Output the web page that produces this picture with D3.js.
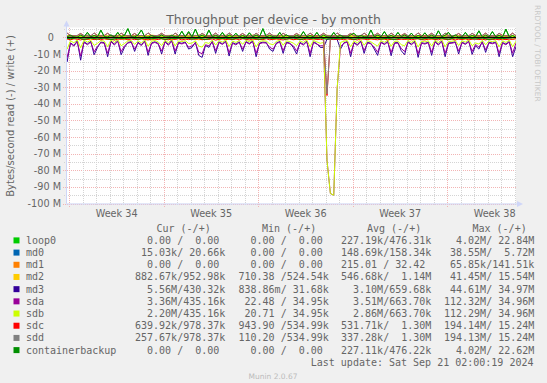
<!DOCTYPE html>
<html>
<head>
<meta charset="utf-8">
<script src="https://cdn.jsdelivr.net/npm/d3@7"></script>
<style>
  body { margin: 0; background: #f0f0f0; }
  svg { display: block; }
  text { font-family: 'DejaVu Sans', sans-serif; fill: #666; }
  .mono { font-family: 'DejaVu Sans Mono', monospace; font-size: 10px; white-space: pre; }
</style>
</head>
<body>
<script>
(function (d3) {
  'use strict';

  // values in M bytes/s, read drawn negative, write positive
  // 135 values = 6h steps, 68 = 12h steps, 35 = daily, from Aug 18 14:00 to Sep 21 02:00 (UTC)
  const md3Read = [-6.0,
    -14.6, -3.2, -4.8, -2.1,  -13.7, -2.6, -3.9, -2.4,  -10.4, -6.0, -2.8, -3.1,  -11.6, -2.2, -4.1, -1.9,
    -10.4, -6.0, -3.0, -2.5,  -8.4, -2.9, -4.4, -2.0,  -10.8, -3.3, -2.6, -3.6,  -10.0, -2.4, -4.2, -1.8,
    -10.0, -3.0, -3.5, -2.7,  -7.0, -6.0, -2.9, -10.8,  -12.0, -4.8, -6.0, -2.3,  -9.6, -2.7, -3.8, -2.2,
    -11.2, -3.1, -4.0, -2.6,  -8.4, -2.5, -3.6, -2.1,  -11.6, -3.4, -2.8, -3.0,  -7.0, -8.4, -3.3, -2.4,
    -9.6, -2.8, -3.4, -6.0,  -10.0, -3.0, -4.1, -2.2,  -11.6, -2.6, -3.7, -6.0,  -6.0, -1.0, -0.9, -1.1,
    -1.2, -7.0, -3.2, -2.5,  -11.6, -3.0, -4.3, -2.1,  -9.6, -2.9, -3.5, -7.0,  -10.8, -2.7, -3.9, -2.4,
    -11.0, -3.2, -3.0, -8.0,  -10.4, -2.6, -4.0, -2.3,  -12.0, -3.1, -3.6, -2.8,  -10.8, -2.4, -4.2, -2.0,
    -11.6, -3.3, -3.1, -2.6,  -10.0, -2.8, -3.8, -2.2,  -10.2, -5.0, -7.0, -2.5,  -9.0, -2.9, -3.4, -2.7,
    -11.6, -3.0, -4.0, -2.4,  -11.6, -5.56];

  const sdaRead = [-5.0,
    -12.0, -3.6, -5.2, -2.6,  -11.2, -3.0, -4.4, -2.8,  -8.6, -5.2, -3.2, -3.5,  -9.5, -2.6, -4.6, -2.3,
    -8.5, -5.0, -3.4, -2.9,  -7.0, -3.3, -4.9, -2.4,  -8.9, -3.7, -3.0, -4.0,  -8.2, -2.8, -4.7, -2.2,
    -8.2, -3.4, -3.9, -3.1,  -5.9, -5.0, -3.3, -8.9,  -9.8, -4.4, -5.0, -2.7,  -7.9, -3.1, -4.2, -2.6,
    -9.2, -3.5, -4.5, -3.0,  -7.0, -2.9, -4.0, -2.5,  -9.5, -3.8, -3.2, -3.4,  -5.9, -7.0, -3.7, -2.8,
    -7.9, -3.2, -3.8, -5.0,  -8.2, -3.4, -4.6, -2.6,  -9.5, -3.0, -4.1, -5.0,  -5.0, -74.0, -94.0, -95.0,
    -31.0, -5.5, -3.5, -2.8,  -9.5, -3.4, -4.8, -2.5,  -7.9, -3.3, -3.9, -5.8,  -8.9, -3.1, -4.3, -2.8,
    -9.0, -3.6, -3.4, -6.6,  -8.5, -3.0, -4.4, -2.7,  -9.8, -3.5, -4.0, -3.2,  -8.9, -2.8, -4.6, -2.4,
    -9.5, -3.7, -3.5, -3.0,  -8.2, -3.2, -4.2, -2.6,  -8.4, -4.2, -5.8, -2.9,  -7.4, -3.3, -3.8, -3.1,
    -9.5, -3.4, -4.4, -2.8,  -9.5, -3.36];

  const sdbRead = [-3.0,
    -7.0, -2.0, -3.2, -1.4,  -6.2, -1.6, -2.8, -1.7,  -4.8, -3.5, -1.9, -2.2,  -5.6, -1.5, -3.0, -1.3,
    -5.0, -3.6, -2.1, -1.8,  -4.2, -2.0, -3.3, -1.4,  -5.3, -2.3, -1.8, -2.7,  -4.9, -1.7, -3.1, -1.2,
    -5.1, -2.1, -2.5, -1.9,  -3.6, -3.4, -2.0, -5.2,  -5.8, -3.0, -3.6, -1.6,  -4.6, -1.9, -2.8, -1.5,
    -5.4, -2.2, -3.0, -1.8,  -4.1, -1.7, -2.6, -1.4,  -5.7, -2.4, -2.0, -2.2,  -3.8, -4.4, -2.4, -1.7,
    -4.7, -2.0, -2.5, -3.4,  -4.9, -2.1, -3.0, -1.5,  -5.6, -1.8, -2.7, -3.5,  -3.0, -74.0, -94.0, -95.0,
    -31.0, -3.0, -2.3, -1.8,  -5.6, -2.1, -3.2, -1.4,  -4.7, -2.0, -2.6, -4.0,  -5.2, -1.9, -2.9, -1.7,
    -5.3, -2.3, -2.2, -4.4,  -5.0, -1.8, -3.0, -1.6,  -5.8, -2.2, -2.7, -2.0,  -5.2, -1.7, -3.1, -1.3,
    -5.6, -2.4, -2.3, -1.8,  -4.9, -2.0, -2.8, -1.5,  -5.0, -3.3, -4.0, -1.7,  -4.4, -2.0, -2.5, -1.9,
    -5.6, -2.1, -3.0, -1.6,  -5.6, -2.2];

  const sdcRead = [
    -1.2, -0.9, -1.4, -0.8, -1.1, -1.5, -0.9, -1.2, -0.7, -1.3,
    -1.0, -1.4, -0.8, -1.2, -0.9, -1.6, -1.0, -1.1, -0.8, -1.4,
    -0.9, -1.3, -1.1, -0.8, -1.2, -1.5, -0.9, -1.0, -1.3, -0.8,
    -1.1, -1.4, -0.9, -1.2, -0.8, -1.5, -1.0, -1.3, -0.9, -1.1,
    -0.8, -1.4, -1.0, -1.2, -0.9, -1.6, -1.1, -0.8, -1.3, -1.0,
    -1.2, -0.9, -1.4, -0.8, -1.1, -1.5, -0.9, -1.2, -1.0, -1.3,
    -0.8, -1.4, -1.1, -0.9, -1.2, -1.5, -1.0, -0.8, -1.3, -1.1,
    -0.9, -1.4, -1.0, -1.2, -0.8, -1.3, -1.1, -1.5, -35.0, -1.2,
    -0.9, -1.3, -1.0, -1.4, -0.8, -1.2, -1.1, -1.5, -0.9, -1.0,
    -1.3, -0.8, -1.2, -1.4, -1.0, -0.9, -1.5, -1.1, -0.8, -1.3,
    -1.0, -1.2, -0.9, -1.4, -1.1, -0.8, -1.3, -1.5, -1.0, -0.9,
    -1.2, -1.4, -0.8, -1.1, -1.3, -0.9, -1.5, -1.0, -1.2, -0.8,
    -1.4, -1.1, -0.9, -1.3, -1.0, -1.5, -0.8, -1.2, -1.1, -1.4,
    -0.9, -1.3, -1.0, -1.2, -0.64];

  const sddRead = [
    -0.4, -0.6, -0.3, -0.5, -0.2, -0.7, -0.4, -0.3, -0.6, -0.5,
    -0.3, -0.7, -0.4, -0.2, -0.5, -0.6, -0.3, -0.4, -0.7, -0.2,
    -0.5, -0.4, -0.6, -0.3, -0.2, -0.7, -0.4, -0.5, -0.3, -0.6,
    -0.2, -0.5, -0.4, -0.7, -0.3, -0.6, -0.2, -0.4, -0.5, -0.3,
    -0.7, -0.4, -0.2, -0.6, -0.5, -0.3, -0.4, -0.7, -0.2, -0.5,
    -0.6, -0.3, -0.4, -0.2, -0.7, -0.5, -0.3, -0.6, -0.4, -0.2,
    -0.5, -0.7, -0.3, -0.4, -0.6, -0.2, -0.5, -0.3, -0.7, -0.4,
    -0.2, -0.6, -0.5, -0.3, -0.4, -0.7, -0.2, -0.5, -34.0, -0.6,
    -0.3, -0.4, -0.2, -0.7, -0.5, -0.3, -0.6, -0.4, -0.2, -0.5,
    -0.7, -0.3, -0.4, -0.6, -0.2, -0.5, -0.3, -0.7, -0.4, -0.2,
    -0.6, -0.5, -0.3, -0.4, -0.7, -0.2, -0.5, -0.6, -0.3, -0.4,
    -0.2, -0.7, -0.5, -0.3, -0.6, -0.4, -0.2, -0.5, -0.7, -0.3,
    -0.4, -0.6, -0.2, -0.5, -0.3, -0.7, -0.4, -0.2, -0.6, -0.5,
    -0.3, -0.4, -0.7, -0.2, -0.26];

  const loop0Write = [
    0.3, 0.4, 1.3, 0.3, 0.2, 1.4, 0.3, 3.0, 0.4, 1.2,
    0.3, 4.4, 0.5, 0.3, 1.5, 0.2, 3.0, 0.4, 1.3, 5.3,
    0.4, 0.3, 1.4, 4.5, 0.3, 0.2, 1.2, 0.4, 0.3, 1.5,
    0.2, 0.4, 1.3, 0.3, 0.5, 3.7, 0.3, 3.5, 0.4, 5.0,
    0.3, 1.4, 0.2, 4.4, 0.4, 1.3, 0.3, 3.0, 0.2, 1.5,
    0.4, 2.5, 0.3, 1.2, 0.2, 2.8, 0.4, 1.4, 0.3, 5.3,
    0.3, 1.3, 0.4, 0.2, 3.0, 0.3, 1.5, 0.4, 0.2, 1.3,
    0.3, 3.5, 0.4, 1.2, 0.3, 3.0, 0.2, 1.4, 0.3, 0.2,
    3.0, 0.4, 1.3, 0.3, 0.2, 1.5, 2.5, 0.3, 1.2, 0.4,
    0.2, 4.5, 0.3, 1.4, 0.4, 3.5, 0.3, 1.3, 0.2, 3.0,
    0.4, 1.5, 0.3, 2.6, 0.2, 1.2, 0.4, 2.8, 0.3, 1.4,
    0.2, 4.0, 0.4, 1.3, 3.0, 0.3, 1.5, 0.2, 0.4, 3.0,
    0.3, 1.2, 0.4, 4.0, 0.2, 1.4, 0.3, 3.5, 0.4, 1.3,
    0.2, 5.0, 0.3, 1.2, 0.0];

  const sddWrite = [
    1.0, 2.6, 1.1, 0.9, 1.2, 2.4, 1.0, 1.3, 0.9, 2.7,
    1.1, 0.9, 1.2, 2.5, 1.0, 1.1, 0.9, 2.6, 1.2, 1.0,
    1.1, 2.4, 0.9, 1.2, 1.0, 2.7, 1.1, 0.9, 1.3, 2.5,
    1.0, 1.1, 0.9, 2.6, 1.2, 1.0, 1.1, 2.4, 0.9, 1.2,
    1.0, 2.5, 1.1, 0.9, 1.2, 2.6, 1.0, 1.1, 0.9, 2.7,
    1.2, 1.0, 1.1, 2.4, 0.9, 1.2, 1.0, 2.5, 1.1, 0.9,
    1.3, 2.6, 1.0, 1.1, 0.9, 2.5, 1.2, 1.0, 1.1, 2.4,
    0.9, 1.2, 1.0, 2.6, 1.1, 0.9, 1.2, 2.5, 1.0, 1.1,
    0.9, 2.7, 1.2, 1.0, 1.1, 2.4, 0.9, 1.2, 1.0, 2.6,
    1.1, 0.9, 1.3, 2.5, 1.0, 1.1, 0.9, 2.6, 1.2, 1.0,
    1.1, 2.4, 0.9, 1.2, 1.0, 2.7, 1.1, 0.9, 1.2, 2.5,
    1.0, 1.1, 0.9, 2.6, 1.2, 1.0, 1.1, 2.4, 0.9, 1.2,
    1.0, 2.5, 1.1, 0.9, 1.2, 2.6, 1.0, 1.1, 0.9, 2.5,
    1.2, 1.0, 1.1, 2.6, 0.98];

  const loop0Read = [
    -0.3, -0.8, -0.2, -1.1, -0.4, -0.9, -0.3, -1.2, -0.5, -0.7,
    -0.2, -1.0, -0.4, -0.8, -0.3, -1.1, -0.5, -0.6, -0.2, -0.9,
    -0.4, -1.2, -0.3, -0.7, -0.5, -1.0, -0.2, -0.8, -0.4, -1.1,
    -0.3, -0.6, -0.5, -0.9, -0.2, -1.2, -0.4, -0.7, -0.3, -1.0,
    -0.5, -0.8, -0.2, -1.1, -0.4, -0.6, -0.3, -0.9, -0.5, -1.2,
    -0.2, -0.7, -0.4, -1.0, -0.3, -0.8, -0.5, -1.1, -0.2, -0.6,
    -0.4, -0.9, -0.3, -1.2, -0.5, -0.7, -0.2, 0.0];

  const md2Read = [
    -0.6, -1.2, -0.4, -0.9, -1.4, -0.5, -0.8, -1.1, -0.3, -1.3,
    -0.7, -0.5, -1.0, -1.5, -0.4, -0.8, -1.2, -0.6, -0.9, -0.3,
    -1.4, -0.7, -0.5, -1.1, -0.8, -1.3, -0.4, -0.6, -1.0, -0.9,
    -0.5, -1.2, -0.7, -0.4, -1.4, -0.8, -0.6, -1.1, -0.3, -0.9,
    -1.3, -0.5, -0.8, -1.0, -0.4, -1.2, -0.7, -0.6, -1.5, -0.5,
    -0.9, -1.1, -0.4, -0.8, -1.3, -0.6, -0.7, -1.0, -0.5, -1.2,
    -0.8, -0.4, -1.1, -0.9, -0.6, -1.4, -0.7, -0.88];

  const md2Write = [
    1.1, 1.3, 0.9, 1.2, 1.0, 1.4, 1.1, 0.9, 1.3, 1.0,
    1.2, 1.1, 0.9, 1.4, 1.0, 1.2, 1.3, 0.9, 1.1, 1.0,
    1.4, 1.2, 0.9, 1.1, 1.3, 1.0, 1.2, 0.9, 1.4, 1.1,
    1.0, 1.3, 1.2, 0.9, 1.1, 1.4, 1.0, 1.2, 0.9, 1.3,
    1.1, 1.0, 1.2, 1.4, 0.9, 1.1, 1.3, 1.0, 1.2, 0.9,
    1.4, 1.1, 1.0, 1.3, 1.2, 0.9, 1.1, 1.4, 1.0, 1.2,
    0.9, 1.3, 1.1, 1.0, 1.2, 1.4, 0.9, 0.95];

  const sdaWrite = [
    0.6, 0.8, 0.5, 0.7, 0.9, 0.6, 0.5, 0.8, 0.7, 0.6,
    0.9, 0.5, 0.7, 0.6, 0.8, 0.5, 0.9, 0.7, 0.6, 0.8,
    0.5, 0.7, 0.9, 0.6, 0.8, 0.5, 0.6, 0.7, 0.9, 0.5,
    0.8, 0.6, 0.7, 0.5, 0.9, 0.8, 0.6, 0.7, 0.5, 0.6,
    0.9, 0.7, 0.8, 0.5, 0.6, 0.9, 0.7, 0.5, 0.8, 0.6,
    0.7, 0.9, 0.5, 0.6, 0.8, 0.7, 0.5, 0.9, 0.6, 0.8,
    0.7, 0.5, 0.6, 0.9, 0.8, 0.6, 0.7, 0.44];

  const md3Write = [
    0.5, 0.7, 0.6, 0.8, 0.5, 0.9, 0.6, 0.7, 0.5, 0.8,
    0.6, 0.9, 0.5, 0.7, 0.8, 0.6, 0.5, 0.9, 0.7, 0.6,
    0.8, 0.5, 0.7, 0.9, 0.6, 0.5, 0.8, 0.6, 0.7, 0.9,
    0.5, 0.7, 0.6, 0.8, 0.5, 0.9, 0.7, 0.6, 0.8, 0.5,
    0.6, 0.9, 0.7, 0.5, 0.8, 0.6, 0.9, 0.7, 0.5, 0.6,
    0.8, 0.7, 0.6, 0.9, 0.5, 0.7, 0.8, 0.6, 0.5, 0.9,
    0.6, 0.8, 0.7, 0.5, 0.9, 0.6, 0.7, 0.43];

  const md0Read = [-0.1, -0.2, -0.1, -0.3, -0.2, -0.1, -0.2, -0.1, -0.3, -0.1, -0.2, -0.2,
    -0.1, -0.3, -0.1, -0.2, -0.1, -0.2, -0.3, -0.1, -0.2, -0.1, -0.1, -0.3, -0.2, -0.1,
    -0.2, -0.3, -0.1, -0.2, -0.1, -0.2, -0.1, -0.3, -0.02];
  const md0Write = [0.2, 0.1, 0.2, 0.1, 0.3, 0.1, 0.2, 0.1, 0.2, 0.3, 0.1, 0.2,
    0.1, 0.2, 0.1, 0.3, 0.2, 0.1, 0.2, 0.1, 0.1, 0.2, 0.3, 0.1, 0.2, 0.1,
    0.2, 0.1, 0.3, 0.1, 0.2, 0.1, 0.2, 0.1, 0.02];
  const md1Read = [0, 0];
  const md1Write = [0, 0];

  // sdb writes equal sda, sdc writes equal sdd, containerbackup equals loop0 (same legend figures)
  const sdbWrite = sdaWrite;
  const sdcWrite = sddWrite;
  const containerbackupRead = loop0Read;
  const containerbackupWrite = loop0Write;

  const devices = ['loop0', 'md0', 'md1', 'md2', 'md3', 'sda', 'sdb', 'sdc', 'sdd', 'containerbackup'];
  const colors = ['#00CC00', '#0066B3', '#FF8000', '#FFCC00', '#330099', '#990099', '#CCFF00', '#FF0000', '#808080', '#008F00'];
  const reads = [loop0Read, md0Read, md1Read, md2Read, md3Read, sdaRead, sdbRead, sdcRead, sddRead, containerbackupRead];
  const writes = [loop0Write, md0Write, md1Write, md2Write, md3Write, sdaWrite, sdbWrite, sdcWrite, sddWrite, containerbackupWrite];

  const curText = ['  0.00 /  0.00 ', ' 15.03k/ 20.66k', '  0.00 /  0.00 ', '882.67k/952.98k', '  5.56M/430.32k',
    '  3.36M/435.16k', '  2.20M/435.16k', '639.92k/978.37k', '257.67k/978.37k', '  0.00 /  0.00 '];
  const minText = ['  0.00 /  0.00 ', '  0.00 /  0.00 ', '  0.00 /  0.00 ', '710.38 /524.54k', '838.86m/ 31.68k',
    ' 22.48 / 34.95k', ' 20.71 / 34.95k', '943.90 /534.99k', '110.20 /534.99k', '  0.00 /  0.00 '];
  const avgText = ['227.19k/476.31k', '148.69k/158.34k', '215.01 / 32.42 ', '546.68k/  1.14M', '  3.10M/659.68k',
    '  3.51M/663.70k', '  2.86M/663.70k', '531.71k/  1.30M', '337.28k/  1.30M', '227.11k/476.22k'];
  const maxText = ['  4.02M/ 22.84M', ' 38.55M/  5.72M', ' 65.85k/141.51k', ' 41.45M/ 15.54M', ' 44.61M/ 34.97M',
    '112.32M/ 34.96M', '112.29M/ 34.96M', '194.14M/ 15.24M', '194.13M/ 15.24M', '  4.02M/ 22.62M'];
  const columnHeads = ['Cur (-/+)', 'Min (-/+)', 'Avg (-/+)', 'Max (-/+)'];

  const yTicks = d3.range(0, -101, -10);

  const start = new Date(Date.UTC(2024, 7, 18, 18));
  const end = new Date(Date.UTC(2024, 8, 21, 2));
  const first = d3.utcHour.offset(start, -4);

  const width = 547;
  const height = 383;
  const margin = { top: 27.5, right: 31, bottom: 179.5, left: 66 };

  const svg = d3.select('body')
    .append('svg')
    .attr('width', width)
    .attr('height', height);

  svg.append('rect').attr('width', width).attr('height', height).attr('fill', '#f0f0f0');

  const x = d3.scaleUtc()
    .domain([start, end])
    .range([margin.left, width - margin.right]);

  const y = d3.scaleLinear()
    .domain([-100, 6])
    .range([height - margin.bottom, margin.top]);

  const x0 = margin.left;
  const x1 = width - margin.right;
  const y0 = height - margin.bottom;
  const y1 = margin.top;

  svg.append('rect')
    .attr('x', x0).attr('y', y1)
    .attr('width', x1 - x0).attr('height', y0 - y1)
    .attr('fill', '#ffffff');

  const minorGrid = '#d4d4d4';
  const majorGrid = '#f2b4b4';

  // horizontal grid, every 5M, red on 10M
  const grid = svg.append('g').attr('shape-rendering', 'crispEdges');
  d3.range(-100, 6, 5).forEach((v) => {
    const major = v % 10 === 0;
    grid.append('line')
      .attr('x1', x0 - (major ? 3 : 2)).attr('x2', x1)
      .attr('y1', Math.round(y(v)) + 0.5).attr('y2', Math.round(y(v)) + 0.5)
      .attr('stroke', major ? majorGrid : minorGrid)
      .attr('stroke-dasharray', '1,1');
  });

  // vertical grid, each day, red on mondays
  d3.utcDay.range(start, end).forEach((d) => {
    const major = d.getUTCDay() === 1;
    const px = Math.round(x(d)) + 0.5;
    grid.append('line')
      .attr('x1', px).attr('x2', px)
      .attr('y1', y1).attr('y2', y0 + (major ? 3 : 2))
      .attr('stroke', major ? majorGrid : minorGrid)
      .attr('stroke-dasharray', '1,1');
  });

  svg.append('defs').append('clipPath').attr('id', 'plot')
    .append('rect')
    .attr('x', x0).attr('y', y1)
    .attr('width', x1 - x0).attr('height', y0 - y1);

  const toPoints = (values) => values.map((v, i) => ({
    t: new Date(+first + i * (end - first) / (values.length - 1)),
    v: v,
  }));

  const line = d3.line()
    .x((d) => x(d.t))
    .y((d) => y(d.v));

  const lines = svg.append('g').attr('clip-path', 'url(#plot)');
  devices.forEach((name, i) => {
    [reads[i], writes[i]].forEach((values) => {
      lines.append('path')
        .datum(toPoints(values))
        .attr('d', line)
        .attr('fill', 'none')
        .attr('stroke', colors[i])
        .attr('stroke-width', 1);
    });
  });

  // zero rule
  svg.append('line')
    .attr('x1', x0).attr('x2', x1)
    .attr('y1', y(0)).attr('y2', y(0))
    .attr('stroke', '#000')
    .attr('stroke-width', 1);

  // axes with arrows
  const axisColor = '#CFD6F8';
  svg.append('line')
    .attr('x1', x0 + 0.5).attr('x2', x0 + 0.5)
    .attr('y1', y0).attr('y2', y1 - 4)
    .attr('stroke', axisColor);
  svg.append('line')
    .attr('x1', x0).attr('x2', x1 + 3)
    .attr('y1', y0 + 0.5).attr('y2', y0 + 0.5)
    .attr('stroke', axisColor);
  svg.append('path')
    .attr('d', `M${x0 + 0.5},${y1 - 7} l-3,6 l6,0 z`)
    .attr('fill', axisColor);
  svg.append('path')
    .attr('d', `M${x1 + 7},${y0 + 0.5} l-6,-3 l0,6 z`)
    .attr('fill', axisColor);

  // tick labels
  svg.append('g')
    .selectAll('text')
    .data(yTicks)
    .join('text')
    .attr('x', (d) => (d === 0 ? 54 : 61))
    .attr('y', (d) => y(d) + 3.5)
    .attr('text-anchor', 'end')
    .attr('font-size', '9.7px')
    .text((d) => (d === 0 ? '0' : `${d} M`));

  // week labels sit mid-week, only those inside the plot
  const weeks = d3.utcMonday.range(d3.utcMonday.floor(start), end)
    .filter((d) => x(d3.utcHour.offset(d, 84)) > x0);
  svg.append('g')
    .selectAll('text')
    .data(weeks)
    .join('text')
    .attr('x', (d) => x(d3.utcHour.offset(d, 84)))
    .attr('y', 217)
    .attr('text-anchor', 'middle')
    .attr('font-size', '9.7px')
    .text((d) => `Week ${d3.utcFormat('%V')(d)}`);

  svg.append('text')
    .attr('x', 273.5).attr('y', 24)
    .attr('text-anchor', 'middle')
    .attr('font-size', '12.5px')
    .text('Throughput per device - by month');

  svg.append('text')
    .attr('transform', 'translate(14,116) rotate(-90)')
    .attr('text-anchor', 'middle')
    .attr('font-size', '10px')
    .text('Bytes/second read (-) / write (+)');

  svg.append('text')
    .attr('transform', 'translate(534.5,5) rotate(90)')
    .attr('font-size', '7.5px')
    .style('fill', '#c8c8c8')
    .text('RRDTOOL / TOBI OETIKER');

  // legend
  const legend = svg.append('g');
  const headX = [156.5, 262, 367, 472.5];
  columnHeads.forEach((h, i) => {
    legend.append('text').attr('class', 'mono')
      .attr('x', headX[i]).attr('y', 231.5)
      .text(h);
  });

  const colX = [135, 238.5, 341, 444];
  const rowY = (i) => 240.4 + i * 12.19;
  devices.forEach((name, i) => {
    legend.append('rect')
      .attr('x', 13.5).attr('y', rowY(i) - 3)
      .attr('width', 6).attr('height', 6)
      .attr('fill', colors[i]);
    legend.append('text').attr('class', 'mono')
      .attr('x', 26).attr('y', rowY(i) + 3.5)
      .text(name);
    [curText, minText, avgText, maxText].forEach((col, j) => {
      legend.append('text').attr('class', 'mono')
        .attr('x', colX[j]).attr('y', rowY(i) + 3.5)
        .text(col[i]);
    });
  });

  legend.append('text').attr('class', 'mono')
    .attr('x', 533.5).attr('y', 366)
    .attr('text-anchor', 'end')
    .text('Last update: Sat Sep 21 02:00:19 2024');

  svg.append('text')
    .attr('x', 273).attr('y', 378.5)
    .attr('text-anchor', 'middle')
    .attr('font-size', '7.5px')
    .style('fill', '#bbbbbb')
    .text('Munin 2.0.67');

})(d3);
</script>
</body>
</html>
